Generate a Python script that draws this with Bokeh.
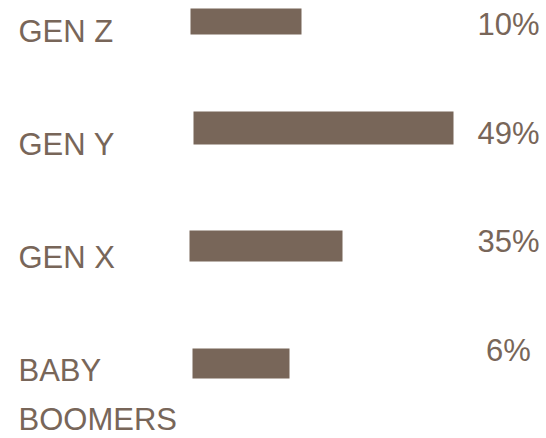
from bokeh.plotting import figure
from bokeh.models import Range1d, ColumnDataSource
from bokeh.core.properties import value
from bokeh.embed import file_html
from bokeh.resources import INLINE

# ---- data ----
categories = ["GEN Z", "GEN Y", "GEN X", "BABY\nBOOMERS"]
percent_values = [10, 49, 35, 6]
pct_labels = [f"{v}%" for v in percent_values]
# bar extents as drawn in the picture (horizontal units)
bar_start = [190, 193, 189, 192]
bar_end = [301, 453, 342, 289]

# ---- layout (vertical positions) ----
bar_top = [8, 111, 230, 348]
bar_bottom = [34, 144, 261, 378]
cat_baseline = [43, 156, 269, 382]
pct_baseline = [36, 145, 253, 362]
LINE_STEP = 49
TEXT_SHIFT = -12

COLOR = "#786659"
FONT = value("Liberation Sans")

p = figure(width=546, height=438, output_backend="svg", toolbar_location=None,
           x_range=Range1d(0, 546), y_range=Range1d(438, 0), min_border=0)
p.axis.visible = False
p.grid.visible = False
p.outline_line_color = None
p.background_fill_color = "white"
p.border_fill_color = "white"

bars = ColumnDataSource(dict(left=bar_start, right=bar_end, top=bar_top, bottom=bar_bottom))
p.quad(left="left", right="right", top="top", bottom="bottom", source=bars,
       fill_color=COLOR, line_color=None)

lx, ly, lt = [], [], []
for cat, base in zip(categories, cat_baseline):
    for i, line in enumerate(cat.split("\n")):
        lx.append(18)
        ly.append(base + i * LINE_STEP + TEXT_SHIFT)
        lt.append(line)
cats = ColumnDataSource(dict(x=lx, y=ly, t=lt))
p.text(x="x", y="y", text="t", source=cats, text_font=FONT, text_font_size="31px",
       text_color=COLOR, text_align="left", text_baseline="alphabetic")

pcts = ColumnDataSource(dict(x=[508] * len(pct_labels),
                             y=[b + TEXT_SHIFT for b in pct_baseline], t=pct_labels))
p.text(x="x", y="y", text="t", source=pcts, text_font=FONT, text_font_size="31px",
       text_color=COLOR, text_align="center", text_baseline="alphabetic")

open("out.html", "w").write(file_html(p, INLINE))
